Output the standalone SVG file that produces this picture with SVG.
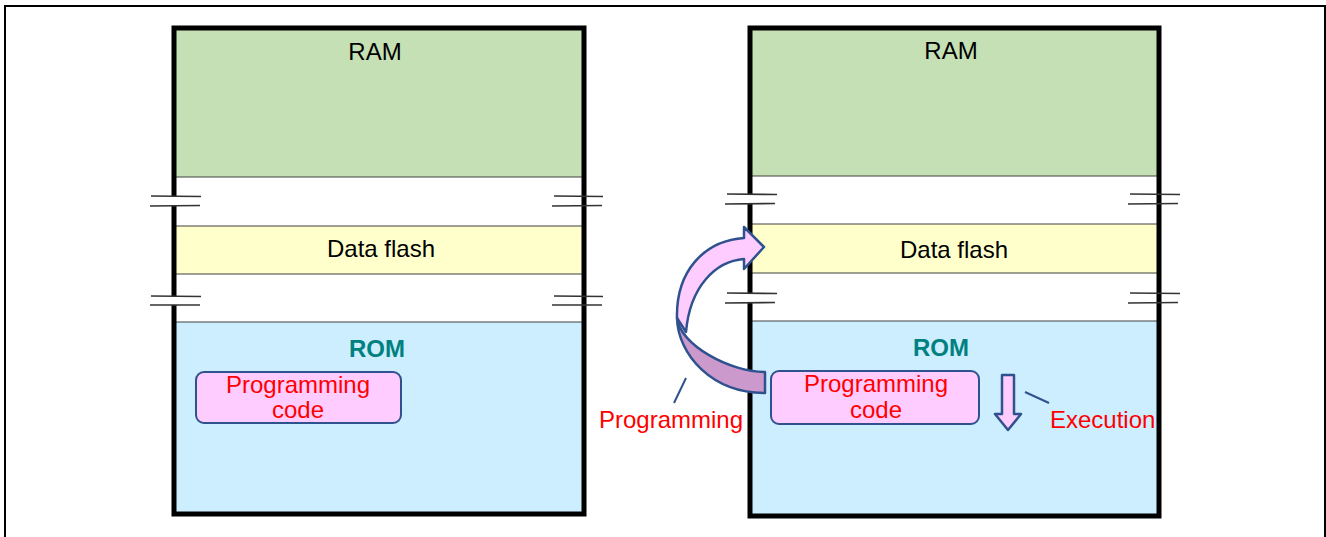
<svg xmlns="http://www.w3.org/2000/svg" width="1326" height="537" viewBox="0 0 1326 537">
  <style>
    text { font-family: "Liberation Sans", Arial, sans-serif; font-size: 24px; }
    .lbl { fill: #000; text-anchor: middle; }
    .rom { fill: #008080; font-weight: bold; text-anchor: middle; }
    .red { fill: #ff0000; }
    .mid { text-anchor: middle; }
    .ram { fill: #c5e0b4; }
    .gap { fill: #ffffff; }
    .dflash { fill: #ffffcc; }
    .romfill { fill: #cceeff; }
    .sep { stroke: #404040; stroke-width: 1; fill: none; }
    .frame { fill: none; stroke: #000; stroke-width: 5; }
    .brk { stroke: #333; stroke-width: 1.6; fill: none; }
    .code { fill: #ffccff; stroke: #2f528f; stroke-width: 2; }
    .arrow { stroke: #2f528f; stroke-width: 2.5; stroke-linejoin: round; }
    .callout { stroke: #2f528f; stroke-width: 2; fill: none; }
  </style>

  <!-- page border -->
  <rect x="5" y="6" width="1320" height="545" fill="#fff" stroke="#000" stroke-width="2"/>

  <!-- left memory map -->
  <g id="map-left">
    <rect class="ram" x="174" y="28" width="410" height="149"/>
    <rect class="gap" x="174" y="177" width="410" height="49"/>
    <rect class="dflash" x="174" y="226" width="410" height="48"/>
    <rect class="gap" x="174" y="274" width="410" height="48"/>
    <rect class="romfill" x="174" y="322" width="410" height="192"/>
    <line class="sep" x1="174" y1="177" x2="584" y2="177"/>
    <line class="sep" x1="174" y1="226" x2="584" y2="226"/>
    <line class="sep" x1="174" y1="274" x2="584" y2="274"/>
    <line class="sep" x1="174" y1="322" x2="584" y2="322"/>
    <rect class="frame" x="174" y="28" width="410" height="486"/>
    <!-- break marks -->
    <rect x="168" y="197" width="12" height="8" fill="#fff"/>
    <rect x="168" y="297" width="12" height="8" fill="#fff"/>
    <path class="brk" d="M151 196 L201 196.5 M150 206 L200 205.5 M151 296 L201 296.5 M150 305 L200 305"/>
    <path class="brk" d="M554 196 L603 196.5 M552 206 L602 205.5 M554 296 L603 296.5 M552 305 L602 305"/>
    <text class="lbl" x="375" y="60">RAM</text>
    <text class="lbl" x="381" y="257">Data flash</text>
    <text class="rom" x="377" y="357">ROM</text>
  </g>

  <g id="code-left">
    <rect class="code" x="196" y="372" width="205" height="51" rx="8"/>
    <text class="red mid" x="298" y="393">Programming</text>
    <text class="red mid" x="298" y="418">code</text>
  </g>

  <!-- right memory map -->
  <g id="map-right">
    <rect class="ram" x="750" y="28" width="409" height="148"/>
    <rect class="gap" x="750" y="176" width="409" height="48"/>
    <rect class="dflash" x="750" y="224" width="409" height="49"/>
    <rect class="gap" x="750" y="273" width="409" height="48"/>
    <rect class="romfill" x="750" y="321" width="409" height="195"/>
    <line class="sep" x1="750" y1="176" x2="1159" y2="176"/>
    <line class="sep" x1="750" y1="224" x2="1159" y2="224"/>
    <line class="sep" x1="750" y1="273" x2="1159" y2="273"/>
    <line class="sep" x1="750" y1="321" x2="1159" y2="321"/>
    <rect class="frame" x="750" y="28" width="409" height="488"/>
    <rect x="744" y="195" width="12" height="8" fill="#fff"/>
    <rect x="744" y="294" width="12" height="8" fill="#fff"/>
    <path class="brk" d="M727 194 L777 194.5 M725 204 L775 203.5 M727 293 L777 293.5 M725 303 L775 302.5"/>
    <path class="brk" d="M1130 194 L1180 194.5 M1128 204 L1178 203.5 M1130 293 L1180 293.5 M1128 303 L1178 302.5"/>
    <text class="lbl" x="951" y="59">RAM</text>
    <text class="lbl" x="954" y="258">Data flash</text>
    <text class="rom" x="941" y="356">ROM</text>
  </g>

  <g id="code-right">
    <rect class="code" x="771" y="371" width="208" height="53" rx="8"/>
    <text class="red mid" x="876" y="392">Programming</text>
    <text class="red mid" x="876" y="418">code</text>
  </g>

  <!-- connectors: programming arrow and execution arrow -->
  <g id="connectors">
    <path class="arrow" fill="#ffccff" d="M677 318 C676 272 703 241 744 238 L744 227 L764 247 L744 269 L744 259 C716 261 690 286 686 332 Z"/>
    <path class="arrow" fill="#cc99cc" d="M765 372 C730 372 680 345 677 318 C678 355 712 393 765 393 Z"/>
    <path class="arrow" fill="#ffccff" d="M1002 375 L1014 375 L1014 414 L1021 414 L1008 430 L995 414 L1002 414 Z"/>
    <line class="callout" x1="686" y1="378" x2="674" y2="403"/>
    <line class="callout" x1="1025" y1="392" x2="1049" y2="403"/>
  </g>

  <g id="label-programming">
    <text class="red mid" x="671" y="428">Programming</text>
  </g>
  <g id="label-execution">
    <text class="red" x="1050" y="428">Execution</text>
  </g>
</svg>
